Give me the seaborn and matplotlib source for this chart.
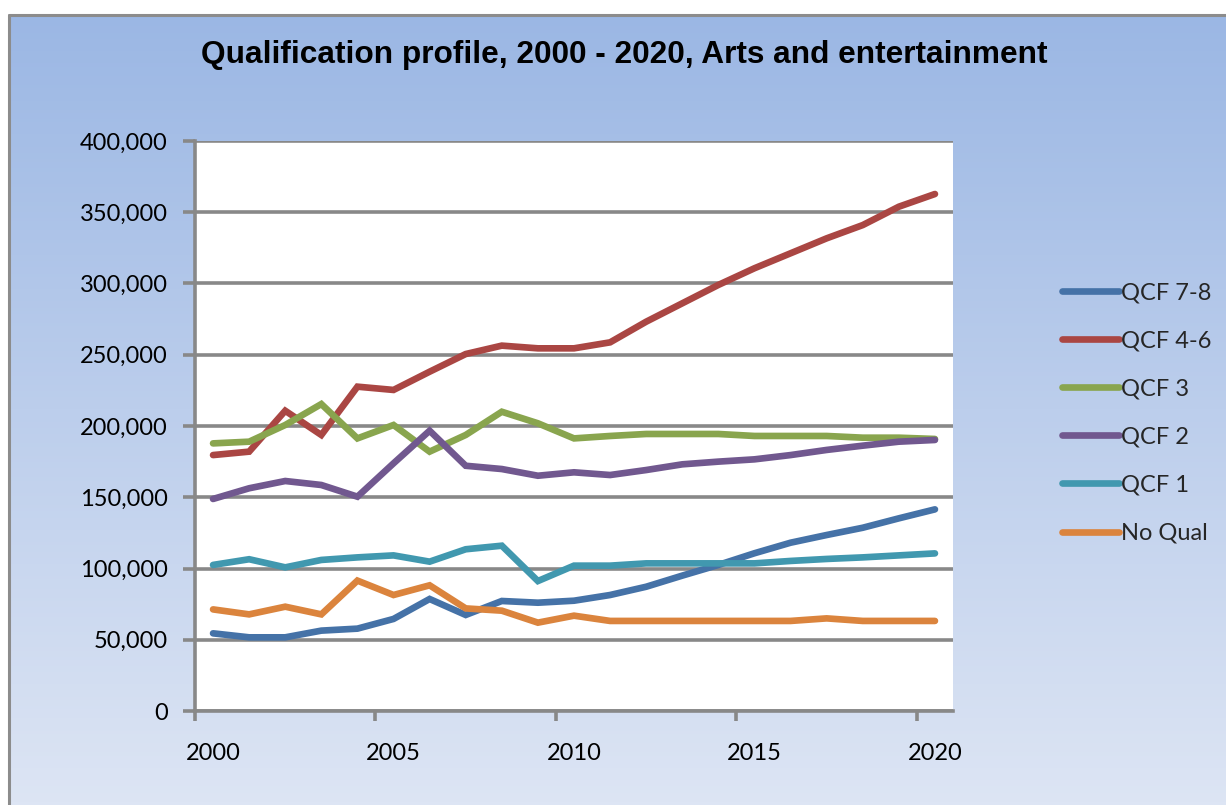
import numpy as np
import pandas as pd
import matplotlib
matplotlib.use("Agg")
import matplotlib.pyplot as plt
from matplotlib.ticker import FuncFormatter, FixedLocator
import seaborn as sns

years = list(range(2000, 2021))

qcf_7_8 = [54500, 51700, 51700, 56400, 57800, 64600, 78600, 67400, 77200, 76000, 77400,
           81400, 87200, 95000, 102500, 110700, 118100, 123500, 128600, 135200, 141500]
qcf_4_6 = [179600, 182000, 210700, 193700, 227600, 225300, 238100, 250500, 256400, 254500, 254500,
           258700, 273200, 286100, 299000, 310700, 321200, 331700, 341000, 353900, 362800]
qcf_3 = [187800, 189000, 200700, 215400, 191300, 200700, 182000, 193700, 210000, 201900, 191300,
         193000, 194400, 194400, 194400, 193000, 193000, 193000, 191800, 191800, 190900]
qcf_2 = [148800, 156300, 161400, 158600, 150400, 173800, 196700, 172100, 169800, 165100, 167500,
         165600, 169100, 173100, 175000, 176600, 179600, 183200, 186200, 189000, 190200]
qcf_1 = [102500, 106500, 100800, 106000, 107800, 109200, 104800, 113500, 116000, 91200, 102000,
         102000, 103600, 103600, 103600, 103600, 105300, 106700, 107800, 109200, 110600]
no_qual = [71300, 67800, 73200, 67800, 91500, 81400, 88200, 72000, 70400, 62000, 66900,
           63200, 63200, 63200, 63200, 63200, 63200, 65000, 63200, 63200, 63200]

series_names = ["QCF 7-8", "QCF 4-6", "QCF 3", "QCF 2", "QCF 1", "No Qual"]
series_values = [qcf_7_8, qcf_4_6, qcf_3, qcf_2, qcf_1, no_qual]
colors = ["#4572A7", "#AA4643", "#89A54E", "#71588F", "#4198AF", "#DB843D"]

y_ticks = [0, 50000, 100000, 150000, 200000, 250000, 300000, 350000, 400000]
x_labels = [2000, 2005, 2010, 2015, 2020]

title = "Qualification profile, 2000 - 2020, Arts and entertainment"

df = pd.DataFrame(
    [(y, name, v) for name, vals in zip(series_names, series_values) for y, v in zip(years, vals)],
    columns=["Year", "Level", "Workers"],
)

sns.set_theme(style="white")
plt.rcParams["font.family"] = ["Lato", "DejaVu Sans"]

W, H = 1226, 805
fig = plt.figure(figsize=(W / 100, H / 100), dpi=100)
fig.patch.set_facecolor("white")

# gradient backdrop of the chart area
bx0, by_top = 10 / W, (H - 15) / H
bg = fig.add_axes([bx0, 0, 1 - bx0, by_top], zorder=0)
top_rgb = np.array([155, 183, 228]) / 255
bot_rgb = np.array([221, 229, 244]) / 255
t = np.linspace(0, 1, 256)[:, None]
grad = (top_rgb[None, :] * (1 - t) + bot_rgb[None, :] * t)[:, None, :]
bg.imshow(grad, aspect="auto", extent=[0, 1, 0, 1], origin="upper")
bg.set_axis_off()
# chart border along top and left
fig.add_artist(plt.Line2D([bx0 - 1 / W, 1], [by_top, by_top], color="#8C8C8C", lw=2.2, transform=fig.transFigure))
fig.add_artist(plt.Line2D([bx0 - 1 / W, bx0 - 1 / W], [0, by_top], color="#8C8C8C", lw=2.2, transform=fig.transFigure))

ax = fig.add_axes([195 / W, (H - 711) / H, (953 - 195) / W, (711 - 141) / H], zorder=2)
ax.set_facecolor("white")

sns.lineplot(data=df, x="Year", y="Workers", hue="Level", hue_order=series_names,
             palette=colors, linewidth=4.8, ax=ax, legend=True)
for ln in ax.lines:
    ln.set_solid_capstyle("round")
    ln.set_solid_joinstyle("miter")

ax.set_xlim(1999.5, 2020.5)
ax.set_ylim(0, 400000)
ax.set_xlabel("")
ax.set_ylabel("")

grid_c = "#888888"
ax.set_yticks(y_ticks)
ax.yaxis.set_major_formatter(FuncFormatter(lambda v, p: f"{int(v):,}"))
ax.yaxis.grid(True, color=grid_c, lw=2.6)
ax.xaxis.grid(False)
ax.set_axisbelow(True)

ax.xaxis.set_major_locator(FixedLocator(x_labels))
ax.xaxis.set_minor_locator(FixedLocator([1999.5, 2004.5, 2009.5, 2014.5, 2019.5]))
ax.tick_params(axis="x", which="major", length=0, pad=23, labelsize=17, labelcolor="black")
ax.tick_params(axis="x", which="minor", length=7, width=2.6, color=grid_c, direction="out", bottom=True)
ax.tick_params(axis="y", which="major", length=9, width=2.6, color=grid_c, direction="out",
               pad=10.5, labelsize=17, labelcolor="black", left=True)

for side in ["top", "right"]:
    ax.spines[side].set_visible(False)
for side in ["left", "bottom"]:
    ax.spines[side].set_visible(True)
    ax.spines[side].set_color(grid_c)
    ax.spines[side].set_linewidth(2.6)

leg = ax.legend(loc="upper left", bbox_to_anchor=(1062 / W, (H - 282) / H),
                bbox_transform=fig.transFigure, frameon=False, fontsize=17,
                handlelength=2.4, handletextpad=0.1, labelspacing=1.15, borderaxespad=0,
                borderpad=0)
for h in leg.get_lines():
    h.set_linewidth(4.8)

fig.text(624 / W, (H - 55) / H, title, ha="center", va="center", fontsize=22.8,
         fontweight="bold", family=["Liberation Sans", "DejaVu Sans"], color="black")

fig.savefig("out.png", dpi=100)
